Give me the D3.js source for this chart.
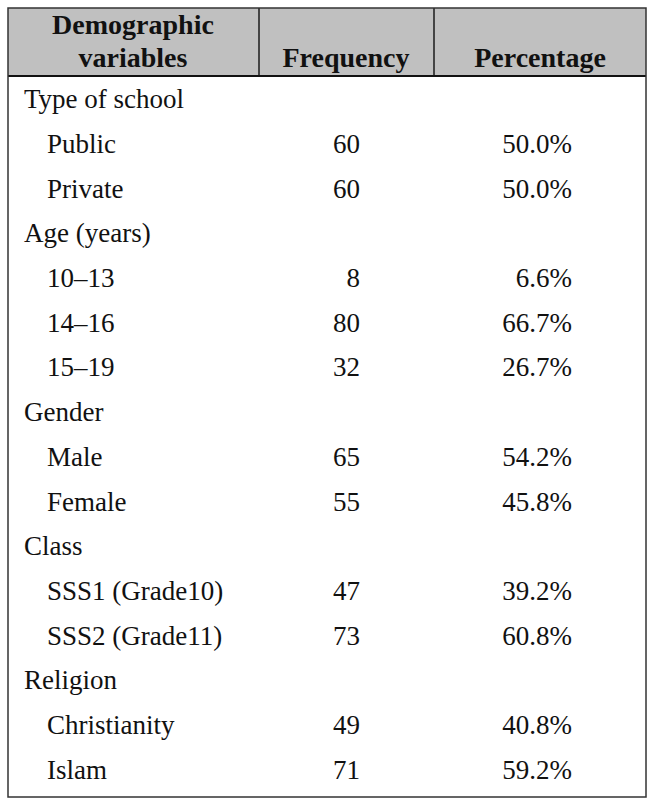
<!DOCTYPE html>
<html>
<head>
<meta charset="utf-8">
<script src="https://cdn.jsdelivr.net/npm/d3@7"></script>
<style>
  body { margin: 0; background: #fff; }
  svg text { font-family: "Liberation Serif", "DejaVu Serif", serif; fill: #111; }
</style>
</head>
<body>
<div class="chart"></div>
<script>
// table data
var headers = ["Demographic", "variables", "Frequency", "Percentage"];
var groupNames = ["Type of school", "Age (years)", "Gender", "Class", "Religion"];
var itemLabels = ["Public", "Private", "10–13", "14–16", "15–19", "Male", "Female",
                  "SSS1 (Grade10)", "SSS2 (Grade11)", "Christianity", "Islam"];
var itemGroup = [0, 0, 1, 1, 1, 2, 2, 3, 3, 4, 4];
var frequencies = [60, 60, 8, 80, 32, 65, 55, 47, 73, 49, 71];
var percentages = [50.0, 50.0, 6.6, 66.7, 26.7, 54.2, 45.8, 39.2, 60.8, 40.8, 59.2];

var width = 655;
var height = 806;

// build the row list: group title then its items
var rows = [];
groupNames.forEach((g, gi) => {
  rows.push({label: g, group: true});
  itemLabels.forEach((d, i) => {
    if (itemGroup[i] === gi) {
      rows.push({label: d, group: false, freq: frequencies[i], pct: percentages[i]});
    }
  });
});

// box edges (window.top is reserved, so use other names)
var boxL = 8, boxR = 646, boxT = 8, boxB = 797;
var headBottom = 76;
var col1 = 259, col2 = 434;

const svg = d3.select(".chart")
              .append("svg")
              .attr("width", width)
              .attr("height", height);

const yScale = d3.scaleBand()
                 .domain(d3.range(rows.length))
                 .range([78, 793]);

// header background
svg.append("rect")
   .attr("x", boxL)
   .attr("y", boxT)
   .attr("width", boxR - boxL)
   .attr("height", headBottom - boxT)
   .attr("fill", "#c0c0c0");

// header dividers
[col1, col2].forEach(x => {
  svg.append("line")
     .attr("x1", x).attr("x2", x)
     .attr("y1", boxT).attr("y2", headBottom)
     .attr("stroke", "#444")
     .attr("stroke-width", 2);
});

svg.append("line")
   .attr("x1", boxL).attr("x2", boxR)
   .attr("y1", headBottom).attr("y2", headBottom)
   .attr("stroke", "#111")
   .attr("stroke-width", 2);

// outer border
svg.append("rect")
   .attr("x", boxL)
   .attr("y", boxT)
   .attr("width", boxR - boxL)
   .attr("height", boxB - boxT)
   .attr("fill", "none")
   .attr("stroke", "#333")
   .attr("stroke-width", 1.5);

// header text
var headG = svg.append("g")
               .style("font-weight", "bold")
               .style("font-size", "28px")
               .attr("text-anchor", "middle");
headG.append("text").attr("x", 133).attr("y", 34).text(headers[0]);
headG.append("text").attr("x", 133).attr("y", 67).text(headers[1]);
headG.append("text").attr("x", 346).attr("y", 67).text(headers[2]);
headG.append("text").attr("x", 540).attr("y", 67).text(headers[3]);

// body rows
var rowG = svg.append("g")
              .selectAll("g")
              .data(rows)
              .enter()
              .append("g")
              .attr("transform", (d, i) => "translate(0," + (yScale(i) + yScale.bandwidth() / 2 + 8) + ")")
              .style("font-size", "27px");

rowG.append("text")
    .attr("x", d => d.group ? 24 : 47)
    .text(d => d.label);

rowG.filter(d => !d.group)
    .append("text")
    .attr("x", 360)
    .attr("text-anchor", "end")
    .text(d => d.freq);

rowG.filter(d => !d.group)
    .append("text")
    .attr("x", 572)
    .attr("text-anchor", "end")
    .text(d => d3.format(".1f")(d.pct) + "%");
</script>
</body>
</html>
